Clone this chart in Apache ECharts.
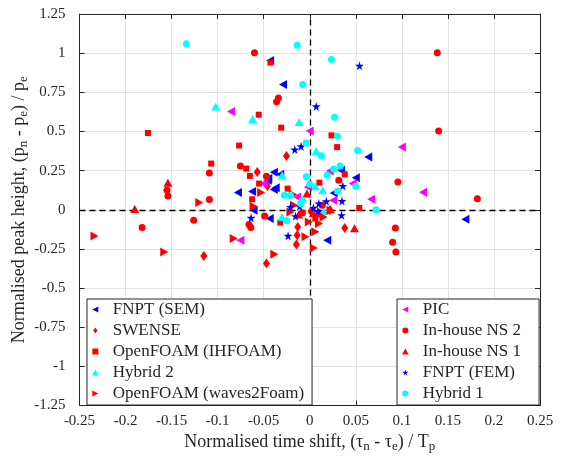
<!DOCTYPE html>
<html>
<head>
<meta charset="utf-8">
<script src="https://cdn.jsdelivr.net/npm/echarts@6/dist/echarts.min.js"></script>
<style>
html,body{margin:0;padding:0;background:#fff;}
#chart{width:563px;height:461px;}
</style>
</head>
<body>
<div id="chart"></div>
<script>
// ---- data: [time shift, peak height] ----
const seriesNames = ['FNPT (SEM)','SWENSE','OpenFOAM (IHFOAM)','Hybrid 2','OpenFOAM (waves2Foam)','PIC','In-house NS 2','In-house NS 1','FNPT (FEM)','Hybrid 1'];
const legendLeft = ['FNPT (SEM)','SWENSE','OpenFOAM (IHFOAM)','Hybrid 2','OpenFOAM (waves2Foam)'];
const legendRight = ['PIC','In-house NS 2','In-house NS 1','FNPT (FEM)','Hybrid 1'];
const xTicks = {min:-0.25, max:0.25, interval:0.05};
const yTicks = {min:-1.25, max:1.25, interval:0.25};

const fnptSem = [[-0.043,0.953],[-0.029,0.80],[0.0635,0.337],[0.034,0.252],[0.050,0.205],[0.026,0.107],[-0.078,0.11],[-0.0626,0.116],[-0.0457,0.188],[-0.045,0.20],[-0.039,0.24],[-0.032,0.226],[-0.039,0.13],[-0.037,0.14],[-0.061,-0.003],[-0.0435,-0.056],[0.169,-0.06],[0.019,-0.195]];
const swense = [[-0.0253,0.343],[-0.057,0.241],[-0.046,0.152],[-0.115,-0.295],[-0.047,-0.343],[-0.0145,-0.222],[-0.013,-0.11],[0.038,-0.116],[0.0217,-0.003],[-0.0137,-0.163],[0.01,-0.02]];
const ihfoam = [[-0.1757,0.49],[-0.0554,0.607],[-0.0427,0.94],[-0.031,0.524],[-0.0767,0.41],[-0.107,0.295],[-0.069,0.263],[-0.065,0.216],[-0.055,0.167],[-0.0626,0.067],[-0.024,0.135],[0.0236,0.475],[0.0297,0.40],[0.038,0.226],[0.0105,0.173],[0.0537,0.011],[-0.032,-0.082],[0.006,-0.056]];
const hybrid2 = [[-0.102,0.66],[-0.062,0.58],[-0.0115,0.56],[0.007,0.375],[-0.03,0.22],[0.006,0.15],[0.014,0.124],[0.015,-0.01],[-0.03,-0.046]];
const waves2Foam = [[-0.2337,-0.167],[-0.158,-0.269],[-0.12,0.046],[-0.0826,-0.184],[-0.061,0.022],[-0.0384,-0.284],[-0.0528,0.11],[-0.018,0.097],[-0.021,-0.014],[-0.0047,-0.173],[0.0044,-0.244],[0.006,-0.14],[0.01,-0.088],[-0.001,-0.078],[0.015,-0.046],[0.0225,-0.003],[-0.017,0.029]];
const pic = [[-0.0855,0.628],[0.0,0.503],[0.100,0.40],[0.123,0.112],[0.0667,0.067],[0.0254,0.06],[0.0467,0.167],[0.0217,0.247],[-0.050,0.167],[-0.0137,0.082],[-0.002,0.145],[-0.0753,-0.195]];
const ns2 = [[-0.060,1.003],[0.1385,1.003],[0.140,0.503],[0.0957,0.177],[0.182,0.071],[-0.034,0.713],[-0.036,0.69],[-0.109,0.235],[-0.109,0.065],[-0.155,0.124],[-0.154,0.088],[-0.0753,0.28],[-0.047,0.214],[-0.182,-0.114],[-0.126,-0.067],[-0.066,-0.094],[-0.064,-0.114],[-0.049,-0.04],[0.0315,0.188],[0.093,-0.116],[0.090,-0.207],[0.0935,-0.27],[0.0135,0.029],[-0.008,-0.02],[0.002,-0.01]];
const ns1 = [[-0.154,0.173],[-0.19,0.005],[0.0486,-0.118],[-0.003,0.103],[0.0225,0.003],[-0.012,-0.03],[0.004,-0.02]];
const fem = [[0.054,0.92],[0.007,0.66],[-0.0094,0.405],[-0.0163,0.384],[0.0359,0.152],[0.035,0.056],[0.018,0.054],[0.0098,0.04],[0.0345,-0.035],[0.0087,-0.008],[-0.0637,-0.052],[-0.0235,-0.167],[-0.021,0.018],[-0.0155,-0.041],[-0.011,0.022],[0.004,0.012]];
const hybrid1 = [[-0.134,1.06],[-0.0137,1.05],[-0.0076,0.80],[0.0236,0.96],[0.027,0.59],[0.030,0.47],[0.0127,0.345],[0.052,0.378],[-0.004,0.426],[-0.0036,0.21],[0.026,0.26],[0.033,0.28],[0.019,0.22],[0.050,0.15],[0.030,0.118],[0.0,0.163],[0.072,0.0],[-0.0275,0.092],[-0.021,0.092],[-0.008,0.06],[-0.01,0.04],[-0.025,-0.07]];

// ---- styling ----
const FONT = "'Liberation Serif','Times New Roman',serif";
const AX = '#262626';
const LEFT_TRI = 'path://M0,5 L10,0 L10,10 Z';
const RIGHT_TRI = 'path://M10,5 L0,0 L0,10 Z';
const UP_TRI = 'path://M5,0 L10,9 L0,9 Z';
const DIAMOND = 'path://M5,0 L10,7 L5,14 L0,7 Z';
const SQUARE = 'path://M0,0 L10,0 L10,10 L0,10 Z';
const STAR = 'path://M50,0 L61,35 L98,35 L68,57 L79,91 L50,70 L21,91 L32,57 L2,35 L39,35 Z';

const styles = {
  'FNPT (SEM)': {data: fnptSem, symbol: LEFT_TRI, size: [8,9], color: '#0000ff'},
  'SWENSE': {data: swense, symbol: DIAMOND, size: [7,10], color: '#ff0000'},
  'OpenFOAM (IHFOAM)': {data: ihfoam, symbol: SQUARE, size: 6, color: '#ff0000'},
  'Hybrid 2': {data: hybrid2, symbol: UP_TRI, size: [9,8], color: '#00ffff'},
  'OpenFOAM (waves2Foam)': {data: waves2Foam, symbol: RIGHT_TRI, size: [8,9], color: '#ff0000'},
  'PIC': {data: pic, symbol: LEFT_TRI, size: [8,9], color: '#ff00ff'},
  'In-house NS 2': {data: ns2, symbol: 'circle', size: 7, color: '#ff0000'},
  'In-house NS 1': {data: ns1, symbol: UP_TRI, size: [9,8], color: '#ff0000'},
  'FNPT (FEM)': {data: fem, symbol: STAR, size: 9, color: '#0000ff'},
  'Hybrid 1': {data: hybrid1, symbol: 'circle', size: 7, color: '#00ffff'}
};

const series = [{
  name: 'zero', type: 'scatter', data: [], z: 1, silent: true,
  markLine: {
    silent: true, symbol: ['none','none'], label: {show: false}, z: 1,
    lineStyle: {type: [6,4], color: '#000', width: 1.3},
    emphasis: {disabled: true},
    data: [{xAxis: 0}, {yAxis: 0}]
  }
}];
seriesNames.forEach(n => {
  const s = styles[n];
  series.push({
    name: n, type: 'scatter', data: s.data, symbol: s.symbol, symbolSize: s.size,
    itemStyle: {color: s.color, opacity: 1}, z: 3
  });
});

const legendCommon = {
  orient: 'vertical', itemWidth: 25, itemHeight: 6, itemGap: 4,
  backgroundColor: '#fff', borderColor: AX, borderWidth: 1, borderRadius: 0,
  selectedMode: false, z: 50, zlevel: 1,
  textStyle: {fontFamily: FONT, fontSize: 17, color: AX, lineHeight: 15}
};

const nameRich = {
  t: {fontFamily: FONT, fontSize: 18, color: AX, lineHeight: 22},
  s: {fontFamily: FONT, fontSize: 13, color: AX, lineHeight: 12, verticalAlign: 'bottom'}
};

const option = {
  animation: false,
  backgroundColor: '#fff',
  grid: {left: 79.5, right: 23, top: 14, bottom: 55.5, outerBoundsMode: 'none', containLabel: false},
  legend: [
    Object.assign({data: legendLeft, left: 87, top: 299, padding: [2, 8, 3, 5]}, legendCommon),
    Object.assign({data: legendRight, left: 397, top: 299, padding: [2, 18, 3, 5]}, legendCommon)
  ],
  xAxis: [{
    type: 'value', min: xTicks.min, max: xTicks.max, interval: xTicks.interval,
    name: '{t|Normalised time shift, (τ}{s|n}{t| - τ}{s|e}{t|) / T}{s|p}',
    nameLocation: 'middle', nameGap: 25,
    nameTextStyle: {rich: nameRich},
    axisLine: {show: true, onZero: false, lineStyle: {color: AX, width: 1}},
    axisTick: {show: true, inside: true, length: 5, lineStyle: {color: AX}},
    axisLabel: {fontFamily: FONT, fontSize: 15, color: AX, margin: 8},
    splitLine: {show: true, lineStyle: {color: '#e2e2e2', width: 1}}
  }, {
    type: 'value', position: 'top', min: xTicks.min, max: xTicks.max, interval: xTicks.interval,
    axisLine: {show: true, onZero: false, lineStyle: {color: AX, width: 1}},
    axisTick: {show: true, inside: true, length: 5, lineStyle: {color: AX}},
    axisLabel: {show: false}, splitLine: {show: false}
  }],
  yAxis: [{
    type: 'value', min: yTicks.min, max: yTicks.max, interval: yTicks.interval,
    name: '{t|Normalised peak height, (p}{s|n}{t| - p}{s|e}{t|) / p}{s|e}',
    nameLocation: 'middle', nameGap: 49, nameMoveOverlap: false,
    nameTextStyle: {rich: nameRich},
    axisLine: {show: true, onZero: false, lineStyle: {color: AX, width: 1}},
    axisTick: {show: true, inside: true, length: 5, lineStyle: {color: AX}},
    axisLabel: {fontFamily: FONT, fontSize: 15, color: AX, margin: 14},
    splitLine: {show: true, lineStyle: {color: '#e2e2e2', width: 1}}
  }, {
    type: 'value', position: 'right', min: yTicks.min, max: yTicks.max, interval: yTicks.interval,
    axisLine: {show: true, onZero: false, lineStyle: {color: AX, width: 1}},
    axisTick: {show: true, inside: true, length: 5, lineStyle: {color: AX}},
    axisLabel: {show: false}, splitLine: {show: false}
  }],
  series: series
};

const chart = echarts.init(document.getElementById('chart'), null, {renderer: 'canvas'});
chart.setOption(option);
</script>
</body>
</html>
